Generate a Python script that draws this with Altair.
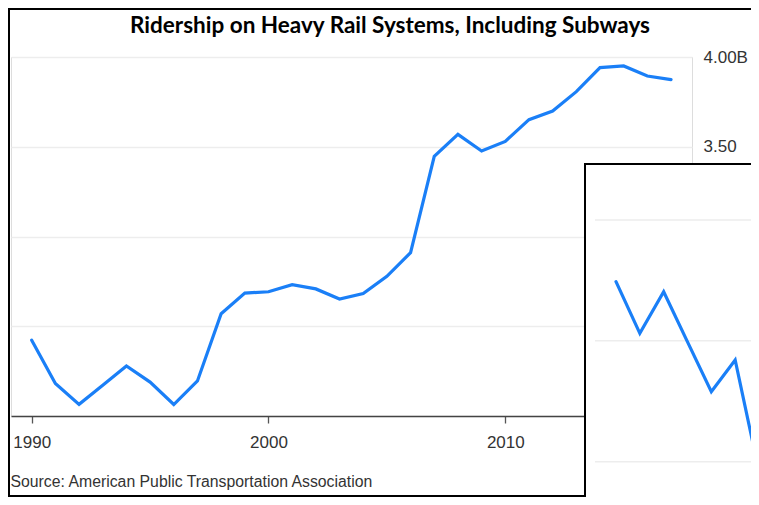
import altair as alt
import pandas as pd

# ---- data ----
years = list(range(1990, 2018))
ridership_billions = [2.422, 2.181, 2.065, 2.171, 2.279, 2.189, 2.064, 2.195, 2.570, 2.685,
                      2.692, 2.732, 2.708, 2.652, 2.682, 2.778, 2.910, 3.447, 3.569, 3.476,
                      3.530, 3.651, 3.699, 3.807, 3.941, 3.950, 3.894, 3.874]
y_ticks = [2.0, 2.5, 3.0, 3.5, 4.0]
x_ticks = [1990, 2000, 2010]

# overlapping inset (cropped second chart in the lower right)
inset_step = [0, 1, 2, 3, 4, 5, 6]
inset_value = [1.7745, 1.7531, 1.7703, 1.7496, 1.7290, 1.7421, 1.6959]
inset_grid = [1.70, 1.75, 1.80]

title_text = "Ridership on Heavy Rail Systems, Including Subways"
source_text = "Source: American Public Transportation Association"

main_df = pd.DataFrame({"year": years, "riders": ridership_billions})
inset_df = pd.DataFrame({"step": inset_step, "value": inset_value})
grid_df = pd.DataFrame({"g": inset_grid})
one = pd.DataFrame({"k": [0]})

BLUE = "#1a7ff7"
W, H = 681, 359
PAD = {"left": 3, "top": 49, "right": 59, "bottom": 81}

main = alt.Chart(main_df).mark_line(color=BLUE, strokeWidth=3.2, strokeCap="round").encode(
    x=alt.X("year:Q",
            scale=alt.Scale(domain=[1989.126, 2017.885], nice=False, zero=False),
            axis=alt.Axis(values=x_ticks, format="d", grid=False, zindex=0,
                          labelFont="Liberation Sans", labelFontSize=17, labelColor="#333",
                          labelPadding=11, tickSize=7, tickColor="#555", tickWidth=1.3,
                          domainColor="#444", domainWidth=1.4,
                          title=source_text, titleFont="Liberation Sans", titleFontSize=15.8,
                          titleFontWeight="normal", titleColor="#333",
                          titleAnchor="start", titleAlign="left", titleBaseline="middle",
                          titleX=-1, titleY=65)),
    y=alt.Y("riders:Q",
            scale=alt.Scale(domain=[2, 4], nice=False, zero=False),
            axis=alt.Axis(orient="right", values=y_ticks, zindex=0,
                          labelExpr="datum.value == 4 ? format(datum.value, '.2f') + 'B' : format(datum.value, '.2f')",
                          labelFont="Liberation Sans", labelFontSize=17, labelColor="#333",
                          labelPadding=11, domain=False, ticks=False,
                          grid=True, gridColor="#ededed", gridWidth=1.5, title=None)),
)

title_mark = alt.Chart(one).mark_text(
    text=title_text, font="Lato", fontSize=22.5, fontWeight="bold", color="black",
    align="center", baseline="alphabetic").encode(x=alt.value(379), y=alt.value(-24))

frame_top = alt.Chart(one).mark_rule(color="black", strokeWidth=2).encode(
    x=alt.value(-4), x2=alt.value(760), y=alt.value(-48))
frame_left = alt.Chart(one).mark_rule(color="black", strokeWidth=2).encode(
    x=alt.value(-2), y=alt.value(-50), y2=alt.value(445))
frame_bottom = alt.Chart(one).mark_rule(color="black", strokeWidth=2).encode(
    x=alt.value(-4), x2=alt.value(575), y=alt.value(439))

inset_bg = alt.Chart(one).mark_rect(fill="white", stroke="black", strokeWidth=2).encode(
    x=alt.value(574), x2=alt.value(820), y=alt.value(107), y2=alt.value(620))

inset_y = alt.Scale(domain=[1.70, 1.80], range=[404.7, 163], nice=False, zero=False)
inset_x = alt.Scale(domain=[0, 6], range=[605, 748], nice=False, zero=False)

inset_gridlines = alt.Chart(grid_df).mark_rule(color="#ededed", strokeWidth=1.5).encode(
    y=alt.Y("g:Q", scale=inset_y, axis=None), x=alt.value(584), x2=alt.value(760))
inset_line = alt.Chart(inset_df).mark_line(color=BLUE, strokeWidth=3.2, strokeCap="round").encode(
    x=alt.X("step:Q", scale=inset_x, axis=None),
    y=alt.Y("value:Q", scale=inset_y, axis=None))

chart = alt.layer(main, title_mark, frame_top, frame_left, frame_bottom,
                  inset_bg, inset_gridlines, inset_line).resolve_scale(
    x="independent", y="independent"
).properties(
    width=W, height=H,
    autosize=alt.AutoSizeParams(type="none"),
    padding=PAD,
).configure_view(stroke=None).configure(background="white")

chart.save("out.html", embed_options={"renderer": "svg", "actions": False})
